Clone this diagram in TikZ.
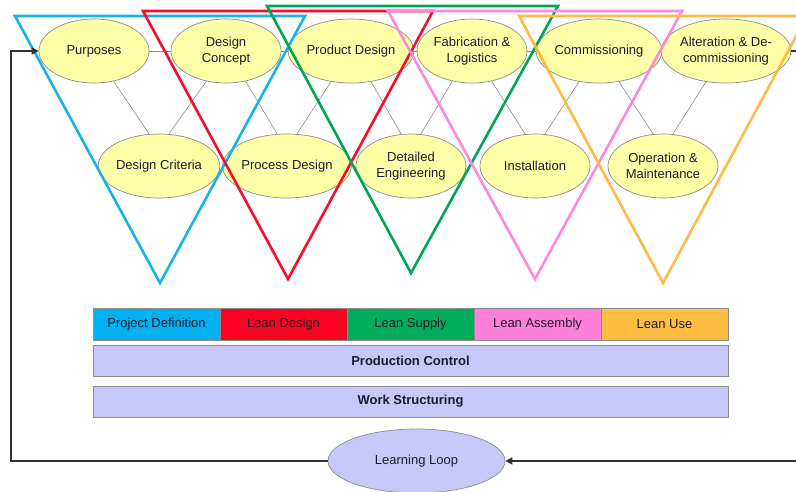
\documentclass[tikz,border=0pt]{standalone}
\usepackage{fontspec}
\setmainfont{Liberation Sans}
\usetikzlibrary{arrows.meta,shapes.geometric}
\definecolor{ovalfill}{HTML}{FFFFA8}
\definecolor{ovalline}{HTML}{8C8C8C}
\definecolor{lav}{HTML}{C8C8F8}
\definecolor{tblue}{HTML}{1AB2E6}
\definecolor{tred}{HTML}{FF0A2A}
\definecolor{tgreen}{HTML}{00A555}
\definecolor{tpink}{HTML}{FF88D8}
\definecolor{torange}{HTML}{FFBA48}
\definecolor{bblue}{HTML}{00B0F0}
\definecolor{bred}{HTML}{FF0022}
\definecolor{bgreen}{HTML}{00AD5C}
\definecolor{bpink}{HTML}{FF80D8}
\definecolor{borange}{HTML}{FFBD42}
\definecolor{txt}{HTML}{1C1C2C}
\definecolor{fbline}{HTML}{303030}
\tikzset{
  oval/.style={ellipse, draw=ovalline, line width=0.7pt, fill=ovalfill, minimum width=110pt, minimum height=64pt, inner sep=0pt, align=center, text=txt, font=\fontsize{13}{16}\selectfont},
  link/.style={draw=ovalline, line width=0.6pt},
  tri/.style={line width=2.6pt, line join=miter},
  phase/.style={rectangle, draw=ovalline, line width=0.7pt, minimum width=127pt, minimum height=32pt, inner sep=0pt, text=txt, font=\fontsize{13}{16}\selectfont},
  band/.style={rectangle, draw=ovalline, line width=0.7pt, fill=lav, minimum width=635pt, minimum height=31pt, inner sep=0pt, text=txt, font=\fontsize{13}{16}\selectfont\bfseries},
  fb/.style={draw=fbline, line width=1.5pt},
  tip/.style={-{Triangle[length=7pt,width=7pt]}}
}
\begin{document}
\begin{tikzpicture}[x=1pt,y=-1pt]
\useasboundingbox (0,0) rectangle (796,491);
\clip (0,0) rectangle (796,491);
% ellipses
\node[oval] (pur) at (94,51) {Purposes};
\node[oval] (dc) at (226,51) {Design\\Concept};
\node[oval] (pd) at (351,51) {Product Design};
\node[oval] (fab) at (472,51) {Fabrication \&\\Logistics};
\node[oval] (com) at (599,51) {Commissioning};
\node[oval] (alt) at (726,51) {Alteration \& De-\\commissioning};
\node[oval] (crit) at (159,166) {Design Criteria};
\node[oval] (proc) at (287,166) {Process Design};
\node[oval] (det) at (411,166) {Detailed\\Engineering};
\node[oval] (inst) at (535,166) {Installation};
\node[oval] (om) at (663,166) {Operation \&\\Maintenance};
% horizontal links
\draw[link] (pur.east) -- (dc.west);
\draw[link] (dc.east) -- (pd.west);
\draw[link] (pd.east) -- (fab.west);
\draw[link] (fab.east) -- (com.west);
\draw[link] (com.east) -- (alt.west);
% diagonal links
\draw[link] (pur.-57) -- (crit.107);
\draw[link] (dc.-123) -- (crit.73);
\draw[link] (dc.-57) -- (proc.107);
\draw[link] (pd.-123) -- (proc.73);
\draw[link] (pd.-57) -- (det.107);
\draw[link] (fab.-123) -- (det.73);
\draw[link] (fab.-57) -- (inst.107);
\draw[link] (com.-123) -- (inst.73);
\draw[link] (com.-57) -- (om.107);
\draw[link] (alt.-123) -- (om.73);
% phase bar
\node[phase, fill=bblue] (p1) at (156.5,324) {Project Definition};
\node[phase, fill=bred] (p2) at (283.5,324) {Lean Design};
\node[phase, fill=bgreen] (p3) at (410.5,324) {Lean Supply};
\node[phase, fill=bpink] (p4) at (537.5,324) {Lean Assembly};
\node[phase, fill=borange] (p5) at (664.5,324) {Lean Use};
\node[band] (pc) at (410.5,361) {Production Control};
\node[band] (ws) at (410.5,401.5) {Work Structuring};
% learning loop
\node[oval, fill=lav, minimum width=177pt, minimum height=64pt] (ll) at (416.5,461) {Learning Loop};
% triangles
\draw[tri, tblue] (15,16) -- (305,16) -- (160,283) -- cycle;
\draw[tri, tred] (143,11) -- (433,11) -- (288,279) -- cycle;
\draw[tri, tgreen] (267,6) -- (558,6) -- (411,273) -- cycle;
\draw[tri, tpink] (388,11) -- (682,11) -- (535,279) -- cycle;
\draw[tri, torange] (519,16) -- (807,16) -- (663,283) -- cycle;
% feedback loop
\coordinate (lb) at (11,461);
\coordinate (lt) at (11,51);
\coordinate (rt) at (812,51);
\coordinate (rb) at (812,461);
\draw[fb, tip] (ll.west) -- (lb) -- (lt) -- (pur.west);
\draw[fb, tip] (alt.east) -- (rt) -- (rb) -- (ll.east);
\end{tikzpicture}
\end{document}
